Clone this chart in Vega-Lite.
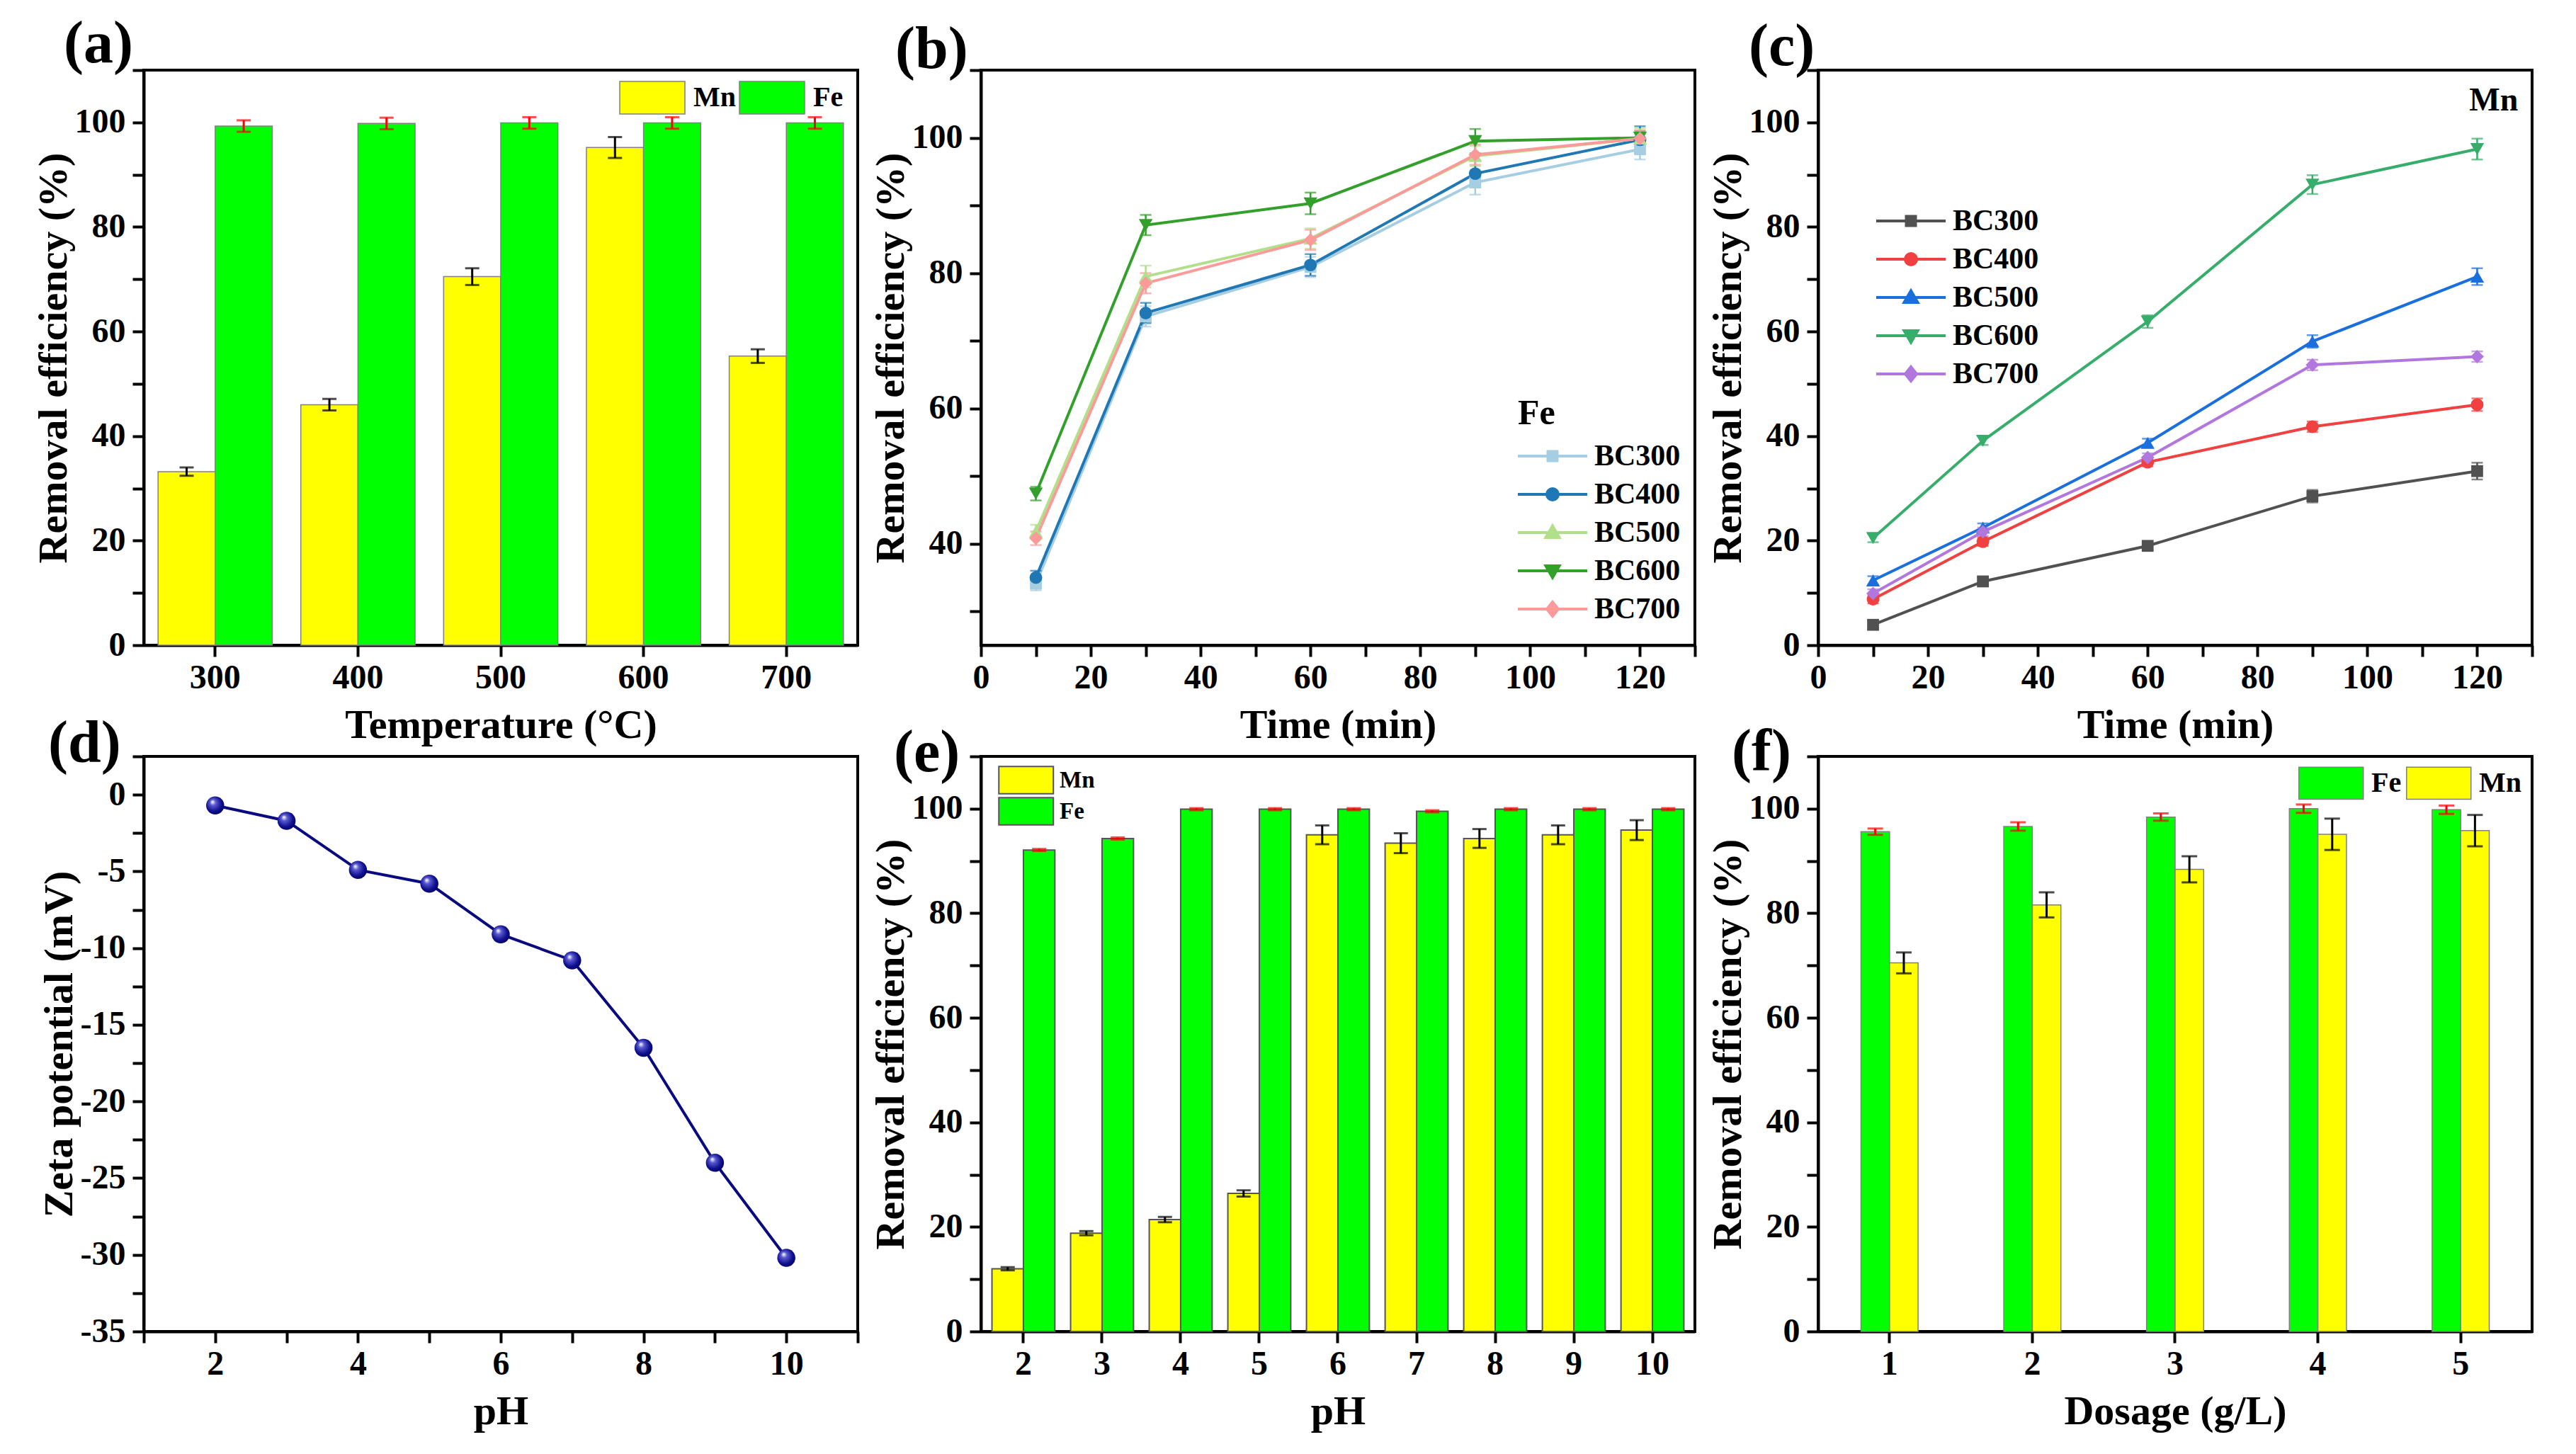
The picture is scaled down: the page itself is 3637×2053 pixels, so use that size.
{
  "$schema": "https://vega.github.io/schema/vega-lite/v6.json",
  "background": "white",
  "padding": {"left": 45, "top": 19, "right": 10, "bottom": 10},
  "bounds": "flush",
  "columns": 3,
  "spacing": {"row": 157, "column": 174},
  "config": {
    "font": "Liberation Serif",
    "view": {"stroke": "black", "strokeWidth": 4},
    "axis": {
      "grid": false,
      "domainColor": "black",
      "domainWidth": 4,
      "tickColor": "black",
      "tickWidth": 4,
      "tickSize": 16,
      "labelFont": "Liberation Serif",
      "labelFontSize": 48,
      "labelFontWeight": "bold",
      "labelColor": "black",
      "labelOverlap": false,
      "labelFlush": false,
      "titleFont": "Liberation Serif",
      "titleFontSize": 58,
      "titleFontWeight": "bold",
      "titleColor": "black"
    },
    "axisX": {"labelPadding": 6, "titlePadding": 14, "labelAngle": 0},
    "axisY": {"labelPadding": 10, "titlePadding": 0},
    "legend": {
      "labelFont": "Liberation Serif",
      "labelFontWeight": "bold",
      "labelColor": "black",
      "titleFont": "Liberation Serif",
      "titleFontWeight": "bold",
      "titleColor": "black",
      "padding": 0,
      "symbolOpacity": 1
    },
    "title": {
      "font": "Liberation Serif",
      "fontSize": 84,
      "fontWeight": "bold",
      "color": "black",
      "anchor": "start",
      "frame": "group"
    }
  },
  "resolve": {"scale": {"color": "independent", "shape": "independent", "fill": "independent", "stroke": "independent", "xOffset": "independent"}},
  "concat": [
    {
      "width": 1008,
      "height": 812,
      "title": {"text": "(a)", "dx": -113, "offset": -31},
      "data": {"values": [
        {"T": 300, "m": "Mn", "v": 33.2, "e": 0.8},
        {"T": 300, "m": "Fe", "v": 99.3, "e": 1.1},
        {"T": 400, "m": "Mn", "v": 46.0, "e": 1.1},
        {"T": 400, "m": "Fe", "v": 99.8, "e": 1.1},
        {"T": 500, "m": "Mn", "v": 70.5, "e": 1.6},
        {"T": 500, "m": "Fe", "v": 99.9, "e": 1.1},
        {"T": 600, "m": "Mn", "v": 95.2, "e": 2.0},
        {"T": 600, "m": "Fe", "v": 99.9, "e": 1.1},
        {"T": 700, "m": "Mn", "v": 55.3, "e": 1.3},
        {"T": 700, "m": "Fe", "v": 99.9, "e": 1.1}
      ]},
      "encoding": {
        "x": {"field": "T", "type": "ordinal", "title": "Temperature (°C)", "scale": {"paddingInner": 0.2, "paddingOuter": 0.1}},
        "xOffset": {"field": "m", "type": "nominal", "sort": ["Mn", "Fe"]},
        "y": {
          "field": "v", "type": "quantitative", "title": "Removal efficiency (%)",
          "scale": {"domain": [0, 110], "nice": false},
          "axis": {
            "values": [0, 10, 20, 30, 40, 50, 60, 70, 80, 90, 100, 110],
            "labelExpr": "datum.value % 20 === 0 ? datum.label : ''",
            "encode": {"ticks": {"update": {"x2": {"signal": "datum.value % 20 === 0 ? -16 : -9"}}}}
          }
        }
      },
      "layer": [
        {
          "mark": {"type": "bar", "stroke": "#808080", "strokeWidth": 1.5},
          "encoding": {
            "color": {
              "field": "m", "type": "nominal",
              "scale": {"domain": ["Mn", "Fe"], "range": ["#ffff00", "#00ff00"]},
              "legend": {
                "title": null, "orient": "none", "legendX": 671, "legendY": 15, "direction": "horizontal",
                "symbolType": "M-1,-1H3V1H-1Z", "symbolSize": 2116,
                "symbolStrokeColor": "#808080", "symbolStrokeWidth": 1.5,
                "labelFontSize": 40, "labelOffset": 57, "columnPadding": 2
              }
            }
          }
        },
        {
          "transform": [{"filter": "datum.m === 'Mn'"}],
          "mark": {"type": "errorbar", "ticks": true, "color": "black", "thickness": 3, "size": 20},
          "encoding": {"yError": {"field": "e"}}
        },
        {
          "transform": [{"filter": "datum.m === 'Fe'"}],
          "mark": {"type": "errorbar", "ticks": true, "color": "red", "thickness": 3, "size": 20},
          "encoding": {"yError": {"field": "e"}}
        }
      ]
    },
    {
      "width": 1008,
      "height": 812,
      "title": {"text": "(b)", "dx": -121, "offset": -39},
      "data": {"values": [
        {"t": 10, "s": "BC300", "v": 34.1, "e": 1.0},
        {"t": 30, "s": "BC300", "v": 73.6, "e": 1.5},
        {"t": 60, "s": "BC300", "v": 80.9, "e": 1.5},
        {"t": 90, "s": "BC300", "v": 93.4, "e": 1.8},
        {"t": 120, "s": "BC300", "v": 98.3, "e": 1.5},
        {"t": 10, "s": "BC400", "v": 35.0, "e": 1.0},
        {"t": 30, "s": "BC400", "v": 74.1, "e": 1.5},
        {"t": 60, "s": "BC400", "v": 81.2, "e": 1.6},
        {"t": 90, "s": "BC400", "v": 94.7, "e": 2.0},
        {"t": 120, "s": "BC400", "v": 99.7, "e": 2.0},
        {"t": 10, "s": "BC500", "v": 41.8, "e": 1.0},
        {"t": 30, "s": "BC500", "v": 79.5, "e": 1.6},
        {"t": 60, "s": "BC500", "v": 85.1, "e": 1.5},
        {"t": 90, "s": "BC500", "v": 97.3, "e": 1.5},
        {"t": 120, "s": "BC500", "v": 99.9, "e": 1.5},
        {"t": 10, "s": "BC600", "v": 47.4, "e": 1.0},
        {"t": 30, "s": "BC600", "v": 87.1, "e": 1.5},
        {"t": 60, "s": "BC600", "v": 90.3, "e": 1.6},
        {"t": 90, "s": "BC600", "v": 99.5, "e": 1.8},
        {"t": 120, "s": "BC600", "v": 100.0, "e": 1.0},
        {"t": 10, "s": "BC700", "v": 40.8, "e": 1.0},
        {"t": 30, "s": "BC700", "v": 78.5, "e": 1.5},
        {"t": 60, "s": "BC700", "v": 84.9, "e": 1.5},
        {"t": 90, "s": "BC700", "v": 97.5, "e": 1.5},
        {"t": 120, "s": "BC700", "v": 99.9, "e": 1.2}
      ]},
      "encoding": {
        "x": {
          "field": "t", "type": "quantitative", "title": "Time (min)",
          "scale": {"domain": [0, 130], "nice": false},
          "axis": {
            "values": [0, 10, 20, 30, 40, 50, 60, 70, 80, 90, 100, 110, 120, 130],
            "labelExpr": "datum.value % 20 === 0 ? datum.label : ''",
            "encode": {"ticks": {"update": {"y2": {"signal": "datum.value % 20 === 0 ? 16 : 9"}}}}
          }
        },
        "y": {
          "field": "v", "type": "quantitative", "title": "Removal efficiency (%)",
          "scale": {"domain": [25, 110], "nice": false, "zero": false},
          "axis": {
            "values": [30, 40, 50, 60, 70, 80, 90, 100, 110],
            "labelExpr": "datum.value % 20 === 0 ? datum.label : ''",
            "encode": {"ticks": {"update": {"x2": {"signal": "datum.value % 20 === 0 ? -16 : -9"}}}}
          }
        }
      },
      "layer": [
        {
          "mark": {"type": "line", "strokeWidth": 4},
          "encoding": {"color": {"field": "s", "type": "nominal", "scale": {"range": ["#a6cee3", "#1f78b4", "#b2df8a", "#33a02c", "#fb9a99"]}, "legend": null}}
        },
        {
          "mark": {"type": "errorbar", "ticks": true, "thickness": 2.5, "size": 16},
          "encoding": {"yError": {"field": "e"}, "color": {"field": "s", "type": "nominal", "legend": null}}
        },
        {"transform": [{"filter": "datum.s === 'BC300'"}], "mark": {"type": "point", "filled": true, "size": 280, "opacity": 1, "shape": "square"}, "encoding": {"color": {"field": "s", "type": "nominal", "legend": null}}},
        {"transform": [{"filter": "datum.s === 'BC400'"}], "mark": {"type": "point", "filled": true, "size": 320, "opacity": 1, "shape": "circle"}, "encoding": {"color": {"field": "s", "type": "nominal", "legend": null}}},
        {"transform": [{"filter": "datum.s === 'BC500'"}], "mark": {"type": "point", "filled": true, "size": 380, "opacity": 1, "shape": "triangle-up"}, "encoding": {"color": {"field": "s", "type": "nominal", "legend": null}}},
        {"transform": [{"filter": "datum.s === 'BC600'"}], "mark": {"type": "point", "filled": true, "size": 380, "opacity": 1, "shape": "triangle-down"}, "encoding": {"color": {"field": "s", "type": "nominal", "legend": null}}},
        {"transform": [{"filter": "datum.s === 'BC700'"}], "mark": {"type": "point", "filled": true, "size": 360, "opacity": 1, "shape": "diamond"}, "encoding": {"color": {"field": "s", "type": "nominal", "legend": null}}},
        {
          "transform": [{"filter": "false"}],
          "mark": {"type": "point", "filled": true, "strokeWidth": 4, "opacity": 1},
          "encoding": {
            "fill": {"field": "s", "type": "nominal", "scale": {"domain": ["BC300", "BC400", "BC500", "BC600", "BC700"], "range": ["#a6cee3", "#1f78b4", "#b2df8a", "#33a02c", "#fb9a99"]},
              "legend": {"title": "Fe", "orient": "none", "legendX": 758, "legendY": 460, "symbolSize": 400, "symbolStrokeWidth": 4, "labelFontSize": 42, "titleFontSize": 50, "labelOffset": 66, "rowPadding": 12, "titlePadding": 14}},
            "stroke": {"field": "s", "type": "nominal", "scale": {"domain": ["BC300", "BC400", "BC500", "BC600", "BC700"], "range": ["#a6cee3", "#1f78b4", "#b2df8a", "#33a02c", "#fb9a99"]},
              "legend": {"title": "Fe", "orient": "none", "legendX": 758, "legendY": 460, "symbolSize": 400, "symbolStrokeWidth": 4, "labelFontSize": 42, "titleFontSize": 50, "labelOffset": 66, "rowPadding": 12, "titlePadding": 14}},
            "shape": {"field": "s", "type": "nominal",
              "scale": {"domain": ["BC300", "BC400", "BC500", "BC600", "BC700"], "range": [
                "M-2.1,0H7.7M2.15,-0.65H3.45V0.65H2.15Z",
                "M-2.1,0H7.7M2,0A0.8,0.8,0,1,0,3.6,0A0.8,0.8,0,1,0,2,0Z",
                "M-2.1,0H7.7M2.8,-0.95L3.75,0.7H1.85Z",
                "M-2.1,0H7.7M2.8,0.95L3.75,-0.7H1.85Z",
                "M-2.1,0H7.7M2.8,-1L3.6,0L2.8,1L2,0Z"
              ]},
              "legend": {"title": "Fe", "orient": "none", "legendX": 758, "legendY": 460, "symbolSize": 400, "symbolStrokeWidth": 4, "labelFontSize": 42, "titleFontSize": 50, "labelOffset": 66, "rowPadding": 12, "titlePadding": 14}}
          }
        }
      ]
    },
    {
      "width": 1008,
      "height": 812,
      "title": {"text": "(c)", "dx": -98, "offset": -35},
      "data": {"values": [
        {"t": 10, "s": "BC300", "v": 3.9, "e": 0.8},
        {"t": 30, "s": "BC300", "v": 12.2, "e": 0.8},
        {"t": 60, "s": "BC300", "v": 19.0, "e": 0.8},
        {"t": 90, "s": "BC300", "v": 28.5, "e": 1.2},
        {"t": 120, "s": "BC300", "v": 33.3, "e": 1.6},
        {"t": 10, "s": "BC400", "v": 8.8, "e": 0.8},
        {"t": 30, "s": "BC400", "v": 19.8, "e": 0.8},
        {"t": 60, "s": "BC400", "v": 35.0, "e": 0.8},
        {"t": 90, "s": "BC400", "v": 41.8, "e": 1.0},
        {"t": 120, "s": "BC400", "v": 46.0, "e": 1.2},
        {"t": 10, "s": "BC500", "v": 12.4, "e": 0.8},
        {"t": 30, "s": "BC500", "v": 22.5, "e": 0.8},
        {"t": 60, "s": "BC500", "v": 38.7, "e": 0.8},
        {"t": 90, "s": "BC500", "v": 58.1, "e": 1.2},
        {"t": 120, "s": "BC500", "v": 70.5, "e": 1.6},
        {"t": 10, "s": "BC600", "v": 20.5, "e": 0.8},
        {"t": 30, "s": "BC600", "v": 39.1, "e": 0.8},
        {"t": 60, "s": "BC600", "v": 61.9, "e": 1.2},
        {"t": 90, "s": "BC600", "v": 88.1, "e": 1.8},
        {"t": 120, "s": "BC600", "v": 94.9, "e": 2.0},
        {"t": 10, "s": "BC700", "v": 9.9, "e": 0.8},
        {"t": 30, "s": "BC700", "v": 21.7, "e": 0.8},
        {"t": 60, "s": "BC700", "v": 35.9, "e": 0.8},
        {"t": 90, "s": "BC700", "v": 53.6, "e": 1.0},
        {"t": 120, "s": "BC700", "v": 55.2, "e": 1.0}
      ]},
      "encoding": {
        "x": {
          "field": "t", "type": "quantitative", "title": "Time (min)",
          "scale": {"domain": [0, 130], "nice": false},
          "axis": {
            "values": [0, 10, 20, 30, 40, 50, 60, 70, 80, 90, 100, 110, 120, 130],
            "labelExpr": "datum.value % 20 === 0 ? datum.label : ''",
            "encode": {"ticks": {"update": {"y2": {"signal": "datum.value % 20 === 0 ? 16 : 9"}}}}
          }
        },
        "y": {
          "field": "v", "type": "quantitative", "title": "Removal efficiency (%)",
          "scale": {"domain": [0, 110], "nice": false},
          "axis": {
            "values": [0, 10, 20, 30, 40, 50, 60, 70, 80, 90, 100, 110],
            "labelExpr": "datum.value % 20 === 0 ? datum.label : ''",
            "encode": {"ticks": {"update": {"x2": {"signal": "datum.value % 20 === 0 ? -16 : -9"}}}}
          }
        }
      },
      "layer": [
        {
          "mark": {"type": "line", "strokeWidth": 4},
          "encoding": {"color": {"field": "s", "type": "nominal", "scale": {"range": ["#515151", "#f14040", "#1a6fdf", "#37ad6b", "#b177de"]}, "legend": null}}
        },
        {
          "mark": {"type": "errorbar", "ticks": true, "thickness": 2.5, "size": 16},
          "encoding": {"yError": {"field": "e"}, "color": {"field": "s", "type": "nominal", "legend": null}}
        },
        {"transform": [{"filter": "datum.s === 'BC300'"}], "mark": {"type": "point", "filled": true, "size": 280, "opacity": 1, "shape": "square"}, "encoding": {"color": {"field": "s", "type": "nominal", "legend": null}}},
        {"transform": [{"filter": "datum.s === 'BC400'"}], "mark": {"type": "point", "filled": true, "size": 320, "opacity": 1, "shape": "circle"}, "encoding": {"color": {"field": "s", "type": "nominal", "legend": null}}},
        {"transform": [{"filter": "datum.s === 'BC500'"}], "mark": {"type": "point", "filled": true, "size": 380, "opacity": 1, "shape": "triangle-up"}, "encoding": {"color": {"field": "s", "type": "nominal", "legend": null}}},
        {"transform": [{"filter": "datum.s === 'BC600'"}], "mark": {"type": "point", "filled": true, "size": 380, "opacity": 1, "shape": "triangle-down"}, "encoding": {"color": {"field": "s", "type": "nominal", "legend": null}}},
        {"transform": [{"filter": "datum.s === 'BC700'"}], "mark": {"type": "point", "filled": true, "size": 360, "opacity": 1, "shape": "diamond"}, "encoding": {"color": {"field": "s", "type": "nominal", "legend": null}}},
        {
          "data": {"values": [{"t": 123, "v": 102.3, "label": "Mn"}]},
          "mark": {"type": "text", "fontSize": 46, "fontWeight": "bold", "font": "Liberation Serif", "color": "black", "align": "center", "baseline": "alphabetic"},
          "encoding": {"text": {"field": "label", "type": "nominal"}}
        },
        {
          "transform": [{"filter": "false"}],
          "mark": {"type": "point", "filled": true, "strokeWidth": 4, "opacity": 1},
          "encoding": {
            "fill": {"field": "s", "type": "nominal", "scale": {"domain": ["BC300", "BC400", "BC500", "BC600", "BC700"], "range": ["#515151", "#f14040", "#1a6fdf", "#37ad6b", "#b177de"]},
              "legend": {"title": null, "orient": "none", "legendX": 82, "legendY": 192, "symbolSize": 400, "symbolStrokeWidth": 4, "labelFontSize": 42, "labelOffset": 66, "rowPadding": 12}},
            "stroke": {"field": "s", "type": "nominal", "scale": {"domain": ["BC300", "BC400", "BC500", "BC600", "BC700"], "range": ["#515151", "#f14040", "#1a6fdf", "#37ad6b", "#b177de"]},
              "legend": {"title": null, "orient": "none", "legendX": 82, "legendY": 192, "symbolSize": 400, "symbolStrokeWidth": 4, "labelFontSize": 42, "labelOffset": 66, "rowPadding": 12}},
            "shape": {"field": "s", "type": "nominal",
              "scale": {"domain": ["BC300", "BC400", "BC500", "BC600", "BC700"], "range": [
                "M-2.1,0H7.7M2.15,-0.65H3.45V0.65H2.15Z",
                "M-2.1,0H7.7M2,0A0.8,0.8,0,1,0,3.6,0A0.8,0.8,0,1,0,2,0Z",
                "M-2.1,0H7.7M2.8,-0.95L3.75,0.7H1.85Z",
                "M-2.1,0H7.7M2.8,0.95L3.75,-0.7H1.85Z",
                "M-2.1,0H7.7M2.8,-1L3.6,0L2.8,1L2,0Z"
              ]},
              "legend": {"title": null, "orient": "none", "legendX": 82, "legendY": 192, "symbolSize": 400, "symbolStrokeWidth": 4, "labelFontSize": 42, "labelOffset": 66, "rowPadding": 12}}
          }
        }
      ]
    },
    {
      "width": 1008,
      "height": 812,
      "title": {"text": "(d)", "dx": -135, "offset": -50},
      "data": {"values": [
        {"pH": 2, "z": -0.7},
        {"pH": 3, "z": -1.7},
        {"pH": 4, "z": -4.9},
        {"pH": 5, "z": -5.8},
        {"pH": 6, "z": -9.1},
        {"pH": 7, "z": -10.8},
        {"pH": 8, "z": -16.5},
        {"pH": 9, "z": -24.0},
        {"pH": 10, "z": -30.2}
      ]},
      "encoding": {
        "x": {
          "field": "pH", "type": "quantitative", "title": "pH",
          "scale": {"domain": [1, 11], "nice": false, "zero": false},
          "axis": {
            "values": [1, 2, 3, 4, 5, 6, 7, 8, 9, 10, 11],
            "labelExpr": "datum.value % 2 === 0 ? datum.label : ''",
            "encode": {"ticks": {"update": {"y2": {"signal": "datum.value % 2 === 0 ? 16 : 9"}}}}
          }
        },
        "y": {
          "field": "z", "type": "quantitative", "title": "Zeta potential (mV)",
          "scale": {"domain": [-35, 2.5], "nice": false, "zero": false},
          "axis": {
            "values": [-35, -32.5, -30, -27.5, -25, -22.5, -20, -17.5, -15, -12.5, -10, -7.5, -5, -2.5, 0, 2.5],
            "labelExpr": "datum.value % 5 === 0 ? '' + datum.value : ''",
            "encode": {"ticks": {"update": {"x2": {"signal": "datum.value % 5 === 0 ? -16 : -9"}}}}
          }
        }
      },
      "layer": [
        {"mark": {"type": "line", "color": "#0a0a80", "strokeWidth": 4}},
        {
          "mark": {
            "type": "point", "filled": true, "size": 650, "opacity": 1,
            "fill": {
              "gradient": "radial", "x1": 0.35, "y1": 0.3, "r1": 0.02, "x2": 0.45, "y2": 0.45, "r2": 0.6,
              "stops": [
                {"offset": 0, "color": "#f4f4ff"},
                {"offset": 0.25, "color": "#5a5ad0"},
                {"offset": 0.7, "color": "#101090"},
                {"offset": 1, "color": "#000060"}
              ]
            }
          }
        }
      ]
    },
    {
      "width": 1008,
      "height": 812,
      "title": {"text": "(e)", "dx": -123, "offset": -63},
      "data": {"values": [
        {"pH": 2, "m": "Mn", "v": 12.0, "e": 0.3},
        {"pH": 2, "m": "Fe", "v": 92.1, "e": 0.2},
        {"pH": 3, "m": "Mn", "v": 18.8, "e": 0.4},
        {"pH": 3, "m": "Fe", "v": 94.3, "e": 0.2},
        {"pH": 4, "m": "Mn", "v": 21.4, "e": 0.5},
        {"pH": 4, "m": "Fe", "v": 99.9, "e": 0.2},
        {"pH": 5, "m": "Mn", "v": 26.4, "e": 0.6},
        {"pH": 5, "m": "Fe", "v": 99.9, "e": 0.2},
        {"pH": 6, "m": "Mn", "v": 95.0, "e": 1.8},
        {"pH": 6, "m": "Fe", "v": 99.9, "e": 0.2},
        {"pH": 7, "m": "Mn", "v": 93.4, "e": 1.9},
        {"pH": 7, "m": "Fe", "v": 99.5, "e": 0.2},
        {"pH": 8, "m": "Mn", "v": 94.3, "e": 1.8},
        {"pH": 8, "m": "Fe", "v": 99.9, "e": 0.2},
        {"pH": 9, "m": "Mn", "v": 95.0, "e": 1.8},
        {"pH": 9, "m": "Fe", "v": 99.9, "e": 0.2},
        {"pH": 10, "m": "Mn", "v": 95.9, "e": 1.9},
        {"pH": 10, "m": "Fe", "v": 99.9, "e": 0.2}
      ]},
      "encoding": {
        "x": {"field": "pH", "type": "ordinal", "title": "pH", "scale": {"paddingInner": 0.2, "paddingOuter": 0.14}},
        "xOffset": {"field": "m", "type": "nominal", "sort": ["Mn", "Fe"]},
        "y": {
          "field": "v", "type": "quantitative", "title": "Removal efficiency (%)",
          "scale": {"domain": [0, 110], "nice": false},
          "axis": {
            "values": [0, 10, 20, 30, 40, 50, 60, 70, 80, 90, 100, 110],
            "labelExpr": "datum.value % 20 === 0 ? datum.label : ''",
            "encode": {"ticks": {"update": {"x2": {"signal": "datum.value % 20 === 0 ? -16 : -9"}}}}
          }
        }
      },
      "layer": [
        {
          "mark": {"type": "bar", "stroke": "#555555", "strokeWidth": 2},
          "encoding": {
            "color": {
              "field": "m", "type": "nominal",
              "scale": {"domain": ["Mn", "Fe"], "range": ["#ffff00", "#00ff00"]},
              "legend": {
                "title": null, "orient": "none", "legendX": 24, "legendY": 13, "direction": "vertical",
                "symbolType": "M-1,-1H3V1H-1Z", "symbolSize": 1482,
                "symbolStrokeColor": "#555555", "symbolStrokeWidth": 2,
                "labelFontSize": 33, "labelOffset": 46, "rowPadding": -7
              }
            }
          }
        },
        {
          "transform": [{"filter": "datum.m === 'Mn'"}],
          "mark": {"type": "errorbar", "ticks": true, "color": "black", "thickness": 3, "size": 20},
          "encoding": {"yError": {"field": "e"}}
        },
        {
          "transform": [{"filter": "datum.m === 'Fe'"}],
          "mark": {"type": "errorbar", "ticks": true, "color": "red", "thickness": 3, "size": 20},
          "encoding": {"yError": {"field": "e"}}
        }
      ]
    },
    {
      "width": 1008,
      "height": 812,
      "title": {"text": "(f)", "dx": -122, "offset": -62},
      "data": {"values": [
        {"d": 1, "m": "Fe", "v": 95.6, "e": 0.6},
        {"d": 1, "m": "Mn", "v": 70.5, "e": 2.0},
        {"d": 2, "m": "Fe", "v": 96.6, "e": 0.8},
        {"d": 2, "m": "Mn", "v": 81.6, "e": 2.4},
        {"d": 3, "m": "Fe", "v": 98.4, "e": 0.7},
        {"d": 3, "m": "Mn", "v": 88.4, "e": 2.5},
        {"d": 4, "m": "Fe", "v": 100.0, "e": 0.8},
        {"d": 4, "m": "Mn", "v": 95.1, "e": 3.0},
        {"d": 5, "m": "Fe", "v": 99.8, "e": 0.8},
        {"d": 5, "m": "Mn", "v": 95.8, "e": 3.0}
      ]},
      "encoding": {
        "x": {"field": "d", "type": "ordinal", "title": "Dosage (g/L)", "scale": {"paddingInner": 0.6, "paddingOuter": 0.3}},
        "xOffset": {"field": "m", "type": "nominal", "sort": ["Fe", "Mn"]},
        "y": {
          "field": "v", "type": "quantitative", "title": "Removal efficiency (%)",
          "scale": {"domain": [0, 110], "nice": false},
          "axis": {
            "values": [0, 10, 20, 30, 40, 50, 60, 70, 80, 90, 100, 110],
            "labelExpr": "datum.value % 20 === 0 ? datum.label : ''",
            "encode": {"ticks": {"update": {"x2": {"signal": "datum.value % 20 === 0 ? -16 : -9"}}}}
          }
        }
      },
      "layer": [
        {
          "mark": {"type": "bar", "stroke": "#808080", "strokeWidth": 1.5},
          "encoding": {
            "color": {
              "field": "m", "type": "nominal",
              "scale": {"domain": ["Fe", "Mn"], "range": ["#00ff00", "#ffff00"]},
              "legend": {
                "title": null, "orient": "none", "legendX": 678, "legendY": 14, "direction": "horizontal",
                "symbolType": "M-1,-1H3V1H-1Z", "symbolSize": 2070,
                "symbolStrokeColor": "#808080", "symbolStrokeWidth": 1.5,
                "labelFontSize": 40, "labelOffset": 56, "columnPadding": 3
              }
            }
          }
        },
        {
          "transform": [{"filter": "datum.m === 'Mn'"}],
          "mark": {"type": "errorbar", "ticks": true, "color": "black", "thickness": 3, "size": 22},
          "encoding": {"yError": {"field": "e"}}
        },
        {
          "transform": [{"filter": "datum.m === 'Fe'"}],
          "mark": {"type": "errorbar", "ticks": true, "color": "red", "thickness": 3, "size": 22},
          "encoding": {"yError": {"field": "e"}}
        }
      ]
    }
  ]
}
